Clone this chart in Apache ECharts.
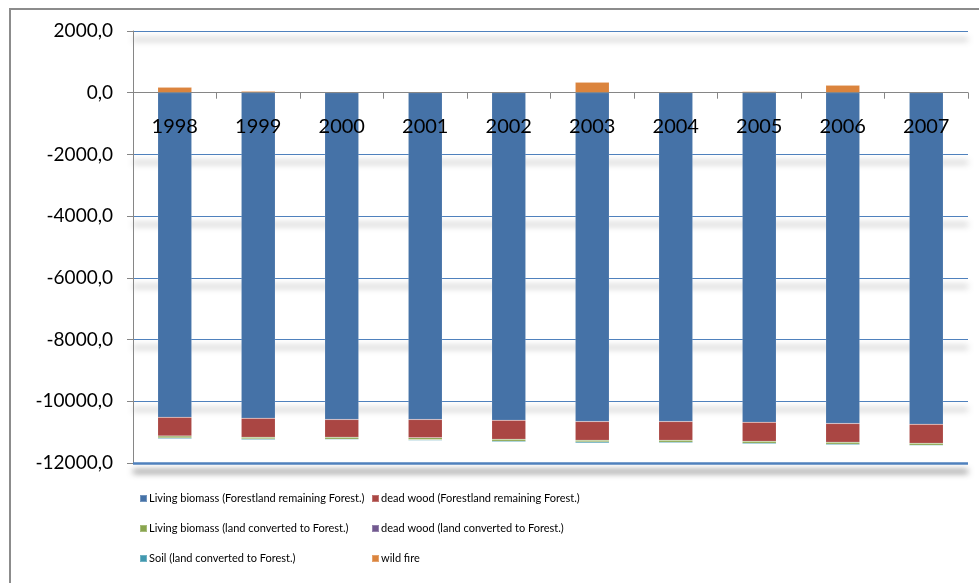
<!DOCTYPE html>
<html>
<head>
<meta charset="utf-8">
<script src="https://cdn.jsdelivr.net/npm/echarts@6/dist/echarts.min.js"></script>
<style>
html,body{margin:0;padding:0;background:#fff;}
#chart{width:979px;height:583px;}
</style>
</head>
<body>
<div id="chart"></div>
<script>
const years = ['1998','1999','2000','2001','2002','2003','2004','2005','2006','2007'];
const seriesNames = [
  'Living biomass (Forestland remaining Forest.)',
  'dead wood (Forestland remaining Forest.)',
  'Living biomass (land converted to Forest.)',
  'dead wood (land converted to Forest.)',
  'Soil (land converted to Forest.)',
  'wild fire'
];
const livingBiomassRemaining = [-10520,-10550,-10590,-10590,-10615,-10657,-10657,-10680,-10720,-10745];
const deadWoodRemaining      = [-605,-615,-573,-593,-615,-605,-605,-615,-605,-615];
const livingBiomassConverted = [-65,-55,-65,-65,-65,-55,-65,-65,-65,-65];
const deadWoodConverted      = [-3,-3,-3,-3,-3,-3,-3,-3,-3,-3];
const soilConverted          = [-32,-30,-25,-30,-32,-42,-32,-32,-32,-22];
const wildFire               = [175,45,30,30,0,340,0,40,240,0];
const yTicks = [2000,0,-2000,-4000,-6000,-8000,-10000,-12000];

const colors = ['#4572A7','#AA4643','#89A54E','#71588F','#4198AF','#DB843D'];
const dataSets = [livingBiomassRemaining, deadWoodRemaining, livingBiomassConverted, deadWoodConverted, soilConverted, wildFire];

const chart = echarts.init(document.getElementById('chart'));
const legendFont = 'Lato, "Liberation Sans", sans-serif';
const shadow = {shadowColor: 'rgba(0,0,0,0.7)', shadowBlur: 6, shadowOffsetY: 8};

// split line colors indexed from min (-12000) upward; hide at -12000 (drawn separately) and at 0 (gray axis)
const splitColors = yTicks.slice().reverse().map(v => (v === 0 || v === -12000) ? 'rgba(0,0,0,0)' : '#4F81BD');

const legendBase = {
  orient: 'vertical', top: 485,
  icon: 'rect', itemWidth: 7, itemHeight: 7, itemGap: 13,
  textStyle: {fontFamily: legendFont, fontSize: 11, color: '#000', lineHeight: 17, padding: [0,0,0,-3]}
};
const labelGap = 24;

chart.setOption({
  animation: false,
  backgroundColor: '#fff',
  color: colors,
  graphic: [{
    type: 'rect',
    shape: {x: 10, y: 9, width: 1000, height: 600},
    style: {fill: 'none', stroke: '#8c8c8c', lineWidth: 2},
    z: -10, silent: true
  }],
  grid: {left: 133, right: 11, top: 31, bottom: 120, containLabel: false},
  legend: [
    Object.assign({left: 134, data: [seriesNames[0], seriesNames[2], seriesNames[4]]}, legendBase),
    Object.assign({left: 366, data: [seriesNames[1], seriesNames[3], seriesNames[5]]}, legendBase)
  ],
  xAxis: {
    type: 'category', data: years, z: 10,
    axisLine: {onZero: true, lineStyle: {color: '#868686', width: 1}},
    axisTick: {show: true, length: 6, lineStyle: {color: '#868686'}},
    axisLabel: {margin: labelGap, fontFamily: 'Lato, "Open Sans", sans-serif', fontSize: 20, color: '#000'},
    splitLine: {show: false}
  },
  yAxis: {
    type: 'value', min: -12000, max: 2000, interval: 2000,
    axisLine: {show: true, lineStyle: {color: '#868686'}},
    axisTick: {show: true, length: 6, lineStyle: {color: '#868686'}},
    axisLabel: {margin: 20, fontFamily: 'Lato, "Open Sans", sans-serif', fontSize: 19, color: '#000',
      formatter: v => v.toFixed(1).replace('.', ',')},
    splitLine: {show: true, lineStyle: Object.assign({color: splitColors, width: 1.2}, shadow)}
  },
  series: seriesNames.map((name, i) => {
    const s = {
      name: name, type: 'bar', stack: 'total', barWidth: 34,
      itemStyle: {color: colors[i], borderColor: 'rgba(255,255,255,0.25)', borderWidth: 0.5},
      data: dataSets[i]
    };
    if (i === 0) {
      s.markLine = {
        silent: true, symbol: 'none', label: {show: false}, z: 1,
        lineStyle: Object.assign({color: '#4F81BD', width: 2.5, type: 'solid'}, shadow),
        data: [{yAxis: yTicks[yTicks.length - 1]}]
      };
    }
    return s;
  })
});

// keep the category labels just under the zero line (labels are anchored to the grid bottom)
const zeroY = chart.convertToPixel({yAxisIndex: 0}, 0);
const bottomY = chart.convertToPixel({yAxisIndex: 0}, yTicks[yTicks.length - 1]);
chart.setOption({xAxis: {axisLabel: {margin: labelGap - (bottomY - zeroY)}}});
</script>
</body>
</html>
